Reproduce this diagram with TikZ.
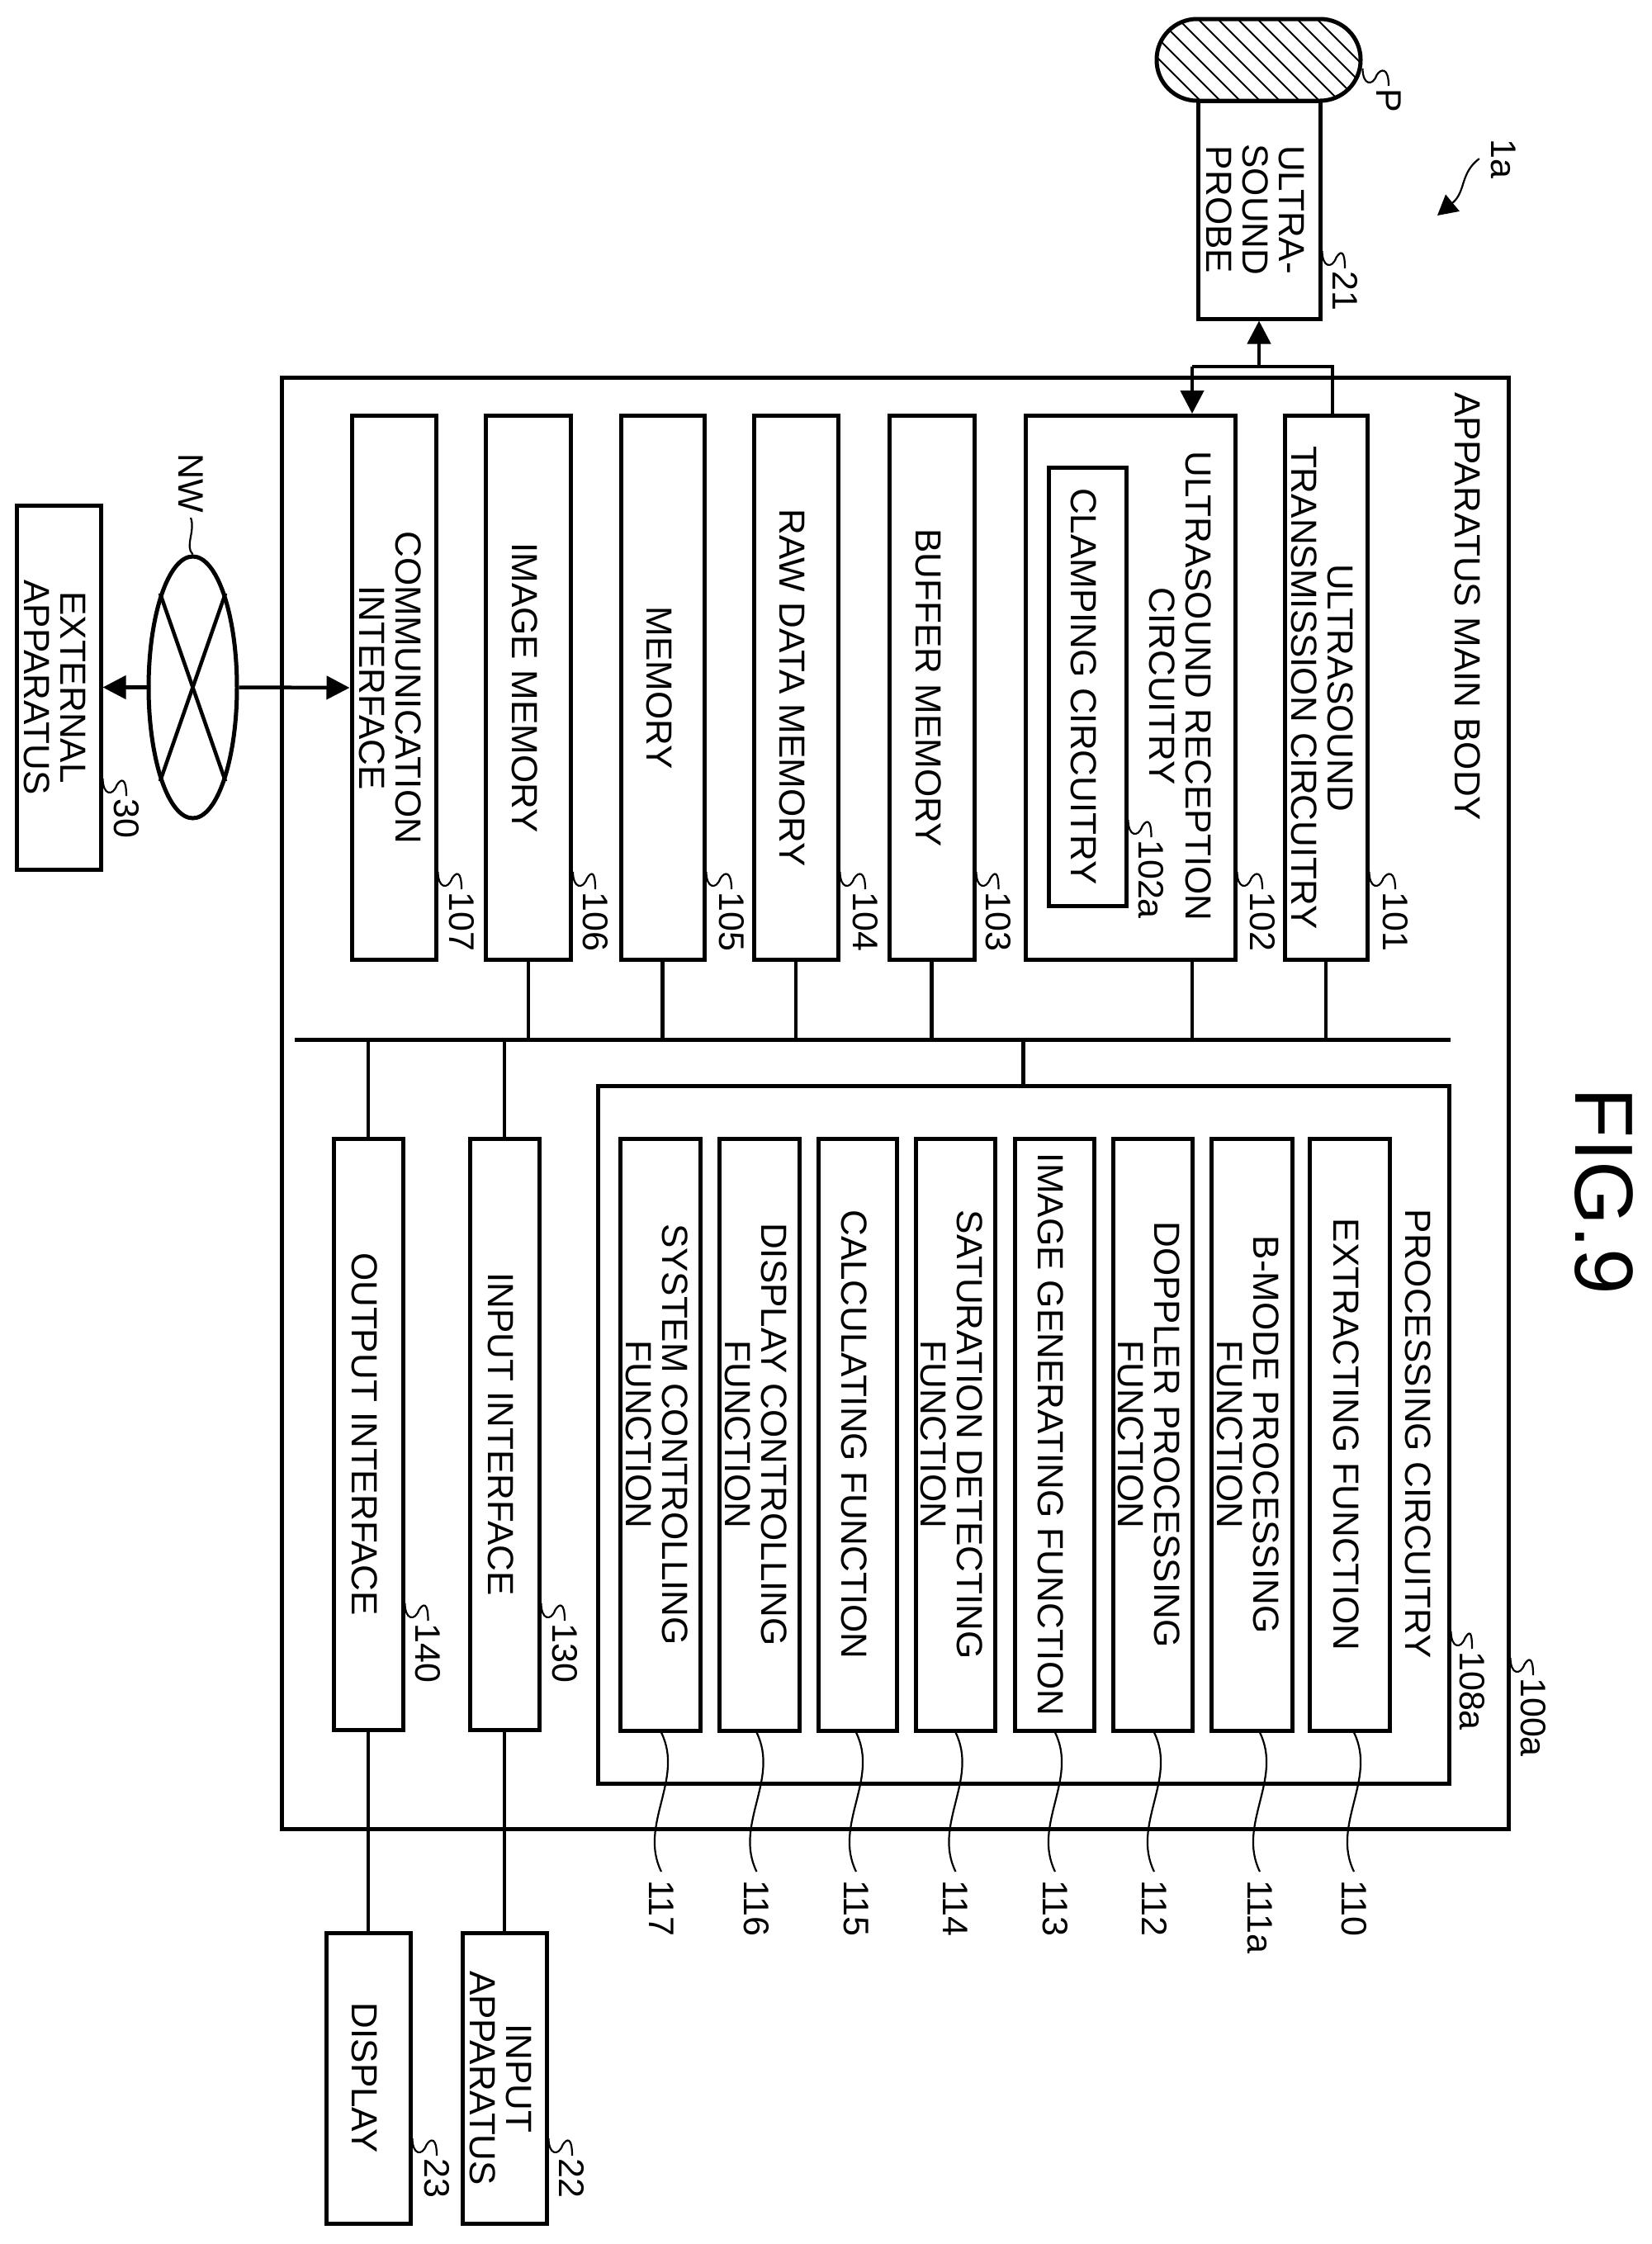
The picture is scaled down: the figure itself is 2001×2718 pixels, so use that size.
\documentclass[tikz,border=0pt]{standalone}
\usepackage{fontspec}
\usepackage{graphicx}
\setmainfont{Liberation Sans}
\usetikzlibrary{arrows.meta,shapes.geometric}
\newcommand\rt[1]{\makebox[0pt][c]{\rotatebox{-90}{\begin{tabular}{@{}c@{}}#1\end{tabular}}\kern21pt}}
\newcommand\lb[1]{\rotatebox{-90}{#1}}
\newcommand\wig[2]{%
  \draw[lead] (#1.east |- #2.north) coordinate (wa) (#2.north) coordinate (wb)
    ([yshift=24pt]wa) .. controls ([yshift=4pt]wa) and ([xshift=12pt,yshift=2pt]wa) ..
    ([xshift=17pt,yshift=16pt]wa) .. controls ([xshift=22pt,yshift=24pt]wa) and ([yshift=26pt]wb) ..
    ([yshift=3pt]wb);}
\newcommand\fnlead[2]{%
  \draw[lead] (#2 |- #1.south) .. controls ([xshift=28pt,yshift=-57pt]#2 |- #1.south)
    and ([xshift=-28pt,yshift=67pt]#2.north) .. ([yshift=10pt]#2.north);}
\tikzset{
  box/.style={draw=black,line width=5pt,inner sep=0pt,font=\fontsize{44}{44}\selectfont},
  txt/.style={inner sep=0pt,font=\fontsize{44}{44}\selectfont},
  tag/.style={inner sep=0pt,anchor=north,font=\fontsize{43}{43}\selectfont},
  conn/.style={line width=4.5pt,draw=black},
  bus/.style={line width=5pt,draw=black},
  lead/.style={line width=2.2pt,draw=black},
  hatch/.style={line width=2pt,draw=black},
  tip/.tip={Triangle[length=28pt,width=28pt]},
}
\begin{document}
\begin{tikzpicture}[x=1pt,y=-1pt]
\useasboundingbox (0,0) rectangle (2001,2718);
% title
\node[inner sep=0pt,font=\fontsize{100}{100}\selectfont] (fig) at (1943,1443) {\lb{FIG.9}};
% main enclosure
\node[box,minimum width=1486pt,minimum height=1758pt] (main) at (1084,1336) {};
\node[tag,font=\fontsize{44}{44}\selectfont] (lmain) at (1778,475) {\lb{APPARATUS MAIN BODY}};
% subject
\begin{scope}
\clip[rounded corners=49pt] (1401,23) rectangle (1648,122);
\foreach \hx in {1284,1308,...,1620} {\draw[hatch] ({\hx},0) -- ({\hx+150},150);}
\end{scope}
\node[box,rounded corners=49pt,minimum width=247pt,minimum height=99pt] (body) at (1524.5,72.5) {};
\node[box,minimum width=148pt,minimum height=264pt] (probe) at (1525,254) {\rt{ULTRA-\\SOUND\\PROBE}};
% upper column
\node[box,minimum width=100pt,minimum height=659pt] (c101) at (1606,833) {\rt{ULTRASOUND\\TRANSMISSION CIRCUITRY}};
\node[box,minimum width=254pt,minimum height=659pt] (c102) at (1369,833) {};
\node[txt] (t102) at (1430,831) {\lb{\begin{tabular}{@{}c@{}}ULTRASOUND RECEPTION\\CIRCUITRY\end{tabular}}\kern13pt};
\node[box,minimum width=94pt,minimum height=531pt] (c102a) at (1317,831.5) {\rt{CLAMPING CIRCUITRY}};
\node[box,minimum width=103pt,minimum height=659pt] (c103) at (1128.5,833) {\rt{BUFFER MEMORY}};
\node[box,minimum width=102pt,minimum height=659pt] (c104) at (964,833) {\rt{RAW DATA MEMORY}};
\node[box,minimum width=101pt,minimum height=659pt] (c105) at (802.5,833) {\rt{MEMORY}};
\node[box,minimum width=103pt,minimum height=659pt] (c106) at (640,833) {\rt{IMAGE MEMORY}};
\node[box,minimum width=102pt,minimum height=659pt] (c107) at (477,833) {\rt{COMMUNICATION\\INTERFACE}};
% bus
\coordinate (busW) at (357,1259);
\coordinate (busE) at (1757,1259);
\draw[bus] (busW) -- (busE);
% processing circuitry
\node[box,minimum width=1031pt,minimum height=845pt] (proc) at (1239.5,1737.5) {};
\node[txt] (tproc) at (1718,1737) {\lb{PROCESSING CIRCUITRY}};
\node[box,minimum width=97pt,minimum height=717pt] (f110) at (1634.5,1737.5) {\rt{EXTRACTING FUNCTION}};
\node[box,minimum width=98pt,minimum height=717pt] (f111) at (1516,1737.5) {\rt{B-MODE PROCESSING\\FUNCTION}};
\node[box,minimum width=96pt,minimum height=717pt] (f112) at (1396,1737.5) {\rt{DOPPLER PROCESSING\\FUNCTION}};
\node[box,minimum width=96pt,minimum height=717pt] (f113) at (1277,1737.5) {\rt{IMAGE GENERATING FUNCTION}};
\node[box,minimum width=96pt,minimum height=717pt] (f114) at (1157,1737.5) {\rt{SATURATION DETECTING\\FUNCTION}};
\node[box,minimum width=95pt,minimum height=717pt] (f115) at (1038.5,1737.5) {\rt{CALCULATING FUNCTION}};
\node[box,minimum width=97pt,minimum height=717pt] (f116) at (919.5,1737.5) {\rt{DISPLAY CONTROLLING\\FUNCTION}};
\node[box,minimum width=97pt,minimum height=717pt] (f117) at (799.5,1737.5) {\rt{SYSTEM CONTROLLING\\FUNCTION}};
% interfaces
\node[box,minimum width=84pt,minimum height=716pt] (c130) at (611,1737) {\rt{INPUT INTERFACE}};
\node[box,minimum width=84pt,minimum height=716pt] (c140) at (446,1737) {\rt{OUTPUT INTERFACE}};
% peripherals
\node[box,minimum width=102pt,minimum height=352pt] (disp) at (446,2517) {\rt{DISPLAY}};
\node[box,minimum width=102pt,minimum height=352pt] (inap) at (611,2517) {\rt{INPUT\\APPARATUS}};
\node[box,minimum width=102pt,minimum height=441pt] (ext) at (71,832.5) {\rt{EXTERNAL\\APPARATUS}};
\node[draw=black,line width=5pt,ellipse,inner sep=0pt,minimum width=107pt,minimum height=317pt] (net) at (233.5,832.5) {};
\draw[conn] (net.north west) -- (net.south east);
\draw[conn] (net.north east) -- (net.south west);
% probe wiring
\coordinate (bar) at (1525,444);
\coordinate (r102) at ([xshift=75pt]c102.north);
\draw[conn] ([xshift=8pt]c101.north) |- (r102 |- bar);
\draw[conn,-tip] (r102 |- bar) -- (r102);
\draw[conn,-tip] (bar) -- (probe.south);
% bus stubs
\foreach \n in {c101,c103,c104,c105,c106} {\draw[conn] (\n.south) -- (\n.south |- busW);}
\draw[conn] (r102 |- c102.south) -- (r102 |- busW);
\draw[conn] (proc.north) -- (proc.north |- busW);
\draw[conn] (c130.north) -- (c130.north |- busW);
\draw[conn] (c140.north) -- (c140.north |- busW);
\draw[conn] (c130.south) -- (inap.north);
\draw[conn] (c140.south) -- (disp.north);
\draw[conn,-tip] (net.west) -- (ext.east);
\draw[conn,-tip] (net.east) -- (c107.west);
% reference numerals
\node[tag] (lP) at (1682,107) {\lb{P}};
\node[tag] (l21) at (1629,328) {\lb{21}};
\node[tag] (l1a) at (1821,168) {\lb{1a}};
\node[tag] (lNW) at (231,549) {\lb{NW}};
\node[tag] (l30) at (153,967) {\lb{30}};
\node[tag] (l101) at (1690,1080) {\lb{101}};
\node[tag] (l102) at (1529,1080) {\lb{102}};
\node[tag] (l102a) at (1394.5,1017) {\lb{102a}};
\node[tag] (l103) at (1209.5,1080) {\lb{103}};
\node[tag] (l104) at (1048,1080) {\lb{104}};
\node[tag] (l105) at (886,1080) {\lb{105}};
\node[tag] (l106) at (721,1080) {\lb{106}};
\node[tag] (l107) at (559,1080) {\lb{107}};
\node[tag] (l100a) at (1857,2032) {\lb{100a}};
\node[tag] (l108a) at (1783,2000) {\lb{108a}};
\node[tag] (l130) at (684,1966) {\lb{130}};
\node[tag] (l140) at (518.5,1966) {\lb{140}};
\node[tag] (l22) at (693,2614) {\lb{22}};
\node[tag] (l23) at (529,2614) {\lb{23}};
\node[tag] (l110) at (1640,2277) {\lb{110}};
\node[tag] (l111a) at (1526,2277) {\lb{111a}};
\node[tag] (l112) at (1398,2277) {\lb{112}};
\node[tag] (l113) at (1278,2277) {\lb{113}};
\node[tag] (l114) at (1157.5,2277) {\lb{114}};
\node[tag] (l115) at (1037,2277) {\lb{115}};
\node[tag] (l116) at (916.5,2277) {\lb{116}};
\node[tag] (l117) at (801,2277) {\lb{117}};
% leaders
\wig{body}{lP}
\wig{probe}{l21}
\wig{ext}{l30}
\wig{c101}{l101}
\wig{c102}{l102}
\wig{c102a}{l102a}
\wig{c103}{l103}
\wig{c104}{l104}
\wig{c105}{l105}
\wig{c106}{l106}
\wig{c107}{l107}
\wig{main}{l100a}
\wig{proc}{l108a}
\wig{c130}{l130}
\wig{c140}{l140}
\wig{inap}{l22}
\wig{disp}{l23}
\fnlead{f110}{l110}
\fnlead{f111}{l111a}
\fnlead{f112}{l112}
\fnlead{f113}{l113}
\fnlead{f114}{l114}
\fnlead{f115}{l115}
\fnlead{f116}{l116}
\fnlead{f117}{l117}
\draw[lead] (net.north) .. controls ([xshift=-10pt,yshift=10pt]net.north) and ([xshift=6pt,yshift=-22pt]lNW.south) .. ([yshift=-6pt]lNW.south);
\coordinate (a1a) at (1741,261);
\draw[lead,-{Triangle[length=24pt,width=26pt]}] ([xshift=-14pt]l1a.west) .. controls (1768,210) and (1776,232) .. (a1a);
\end{tikzpicture}
\end{document}
